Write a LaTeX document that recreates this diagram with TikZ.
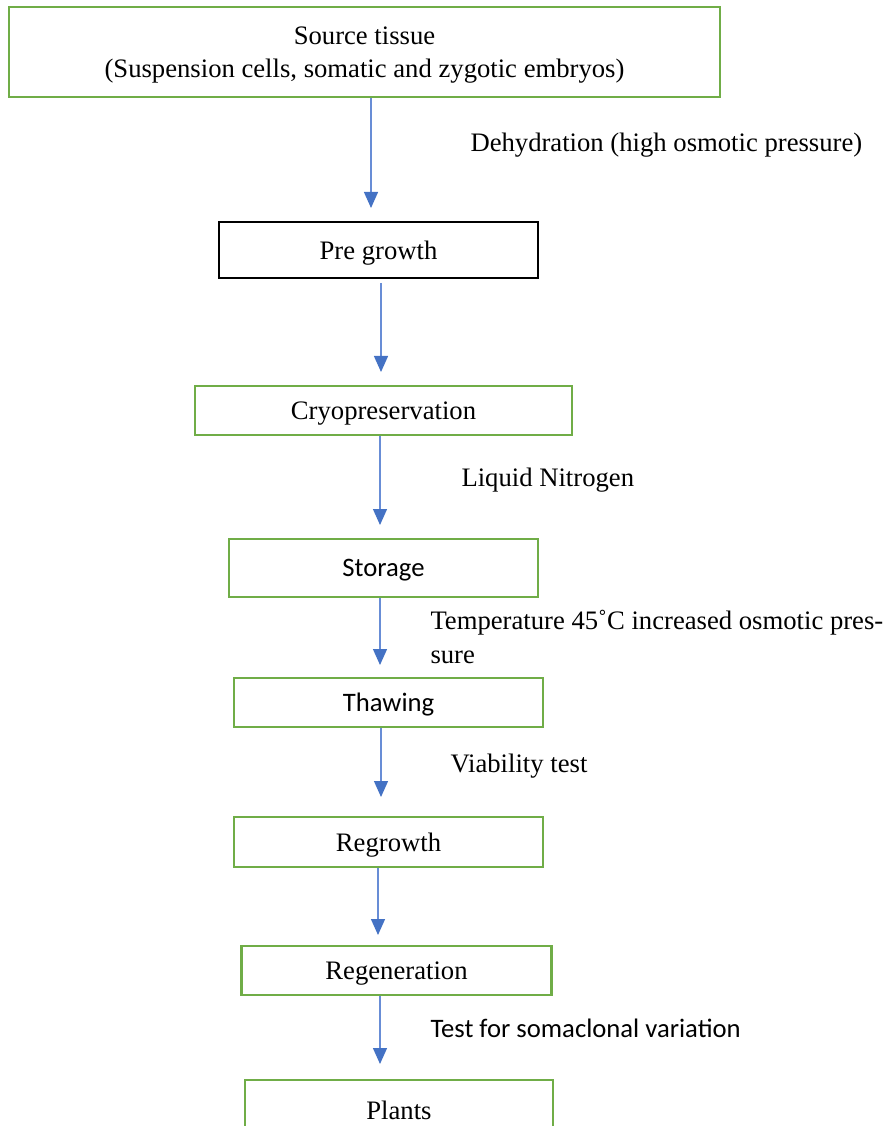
\documentclass[tikz,border=0pt]{standalone}
\usepackage{fontspec}
\setmainfont{Liberation Serif}
\newfontfamily\calibri{Carlito}
\usetikzlibrary{arrows.meta}

\definecolor{boxgreen}{RGB}{112,173,71}
\definecolor{tipblue}{RGB}{68,114,196}
\definecolor{lineblue}{RGB}{104,141,214}

\tikzset{every picture/.style={line width=0.75pt}}
\tikzset{
  greenbox/.style={draw=boxgreen, line width=2.1pt, inner sep=0pt, align=center,
    text depth=0pt, font=\fontsize{20}{25}\selectfont},
  blackbox/.style={draw=black, line width=1.3pt, inner sep=0pt, align=center,
    text depth=0pt, font=\fontsize{20}{25}\selectfont},
  sanstext/.style={font=\calibri\fontsize{20}{25}\selectfont},
  flow/.style={draw=lineblue, line width=1pt,
    -{Triangle[width=10.5pt,length=12pt,color=tipblue]}},
  note/.style={anchor=west, inner sep=0pt, align=left,
    font=\fontsize{20}{25.5}\selectfont},
}

\begin{document}
\begin{tikzpicture}[x=0.75pt,y=0.75pt,yscale=-1,xscale=1]
\clip (0,0) rectangle (888,1126);

%Shape: Rectangle [source]
\node [greenbox, minimum width=533.25pt, minimum height=67.5pt] (src) at (364.5,52)
  {Source tissue\\(Suspension cells, somatic and zygotic embryos)};
%Shape: Rectangle [pre growth]
\node [blackbox, minimum width=239.25pt, minimum height=42pt] (pre) at (378.5,250) {Pre growth};
%Shape: Rectangle [cryo]
\node [greenbox, minimum width=282.75pt, minimum height=36.75pt] (cryo) at (383.5,410.5) {Cryopreservation};
%Shape: Rectangle [storage]
\node [greenbox, sanstext, minimum width=231.75pt, minimum height=43.5pt] (stor) at (383.5,568) {Storage};
%Shape: Rectangle [thawing]
\node [greenbox, sanstext, minimum width=231.75pt, minimum height=36.75pt] (thaw) at (388.5,702.5) {Thawing};
%Shape: Rectangle [regrowth]
\node [greenbox, minimum width=231.75pt, minimum height=37.5pt] (regr) at (388.5,842) {Regrowth};
%Shape: Rectangle [regeneration]
\node [greenbox, minimum width=232.5pt, minimum height=36.75pt] (regen) at (396.5,970.5) {Regeneration};
%Shape: Rectangle [plants]
\node [greenbox, minimum width=231pt, minimum height=45pt] (plant) at (399,1110) {Plants};

%Straight Lines [arrow tips]
\coordinate (t1) at (371,208);
\coordinate (t2) at (381,372);
\coordinate (t3) at (380,525);
\coordinate (t4) at (380,665);
\coordinate (t5) at (381,797);
\coordinate (t6) at (378,935);
\coordinate (t7) at (380,1064);

\draw [flow] (src.south -| t1) -- (t1);
\draw [flow, shorten <=3pt] (pre.south -| t2) -- (t2);
\draw [flow] (cryo.south -| t3) -- (t3);
\draw [flow] (stor.south -| t4) -- (t4);
\draw [flow] (thaw.south -| t5) -- (t5);
\draw [flow] (regr.south -| t6) -- (t6);
\draw [flow] (regen.south -| t7) -- (t7);

% Text Node
\node [note] (dehyd) at (470,145) {Dehydration (high osmotic pressure)};
% Text Node
\node [note] (liqn) at (461,480) {Liquid Nitrogen};
% Text Node
\node [note] (temp) at (430,637) {Temperature 45˚C increased osmotic pres-\\sure};
% Text Node
\node [note] (viab) at (450,766) {Viability test};
% Text Node
\node [note, sanstext] (soma) at (430,1028) {Test for somaclonal variation};

\end{tikzpicture}
\end{document}
